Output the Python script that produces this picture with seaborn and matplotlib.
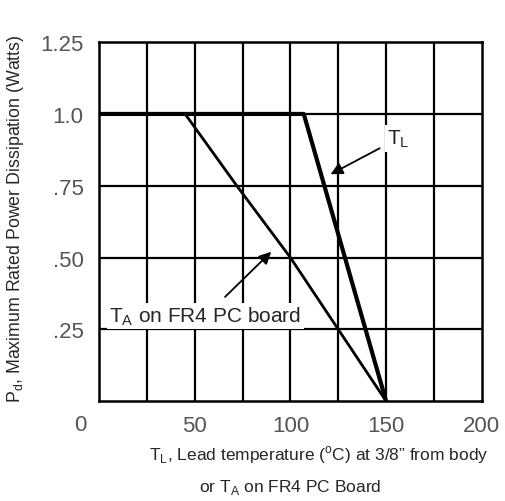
import numpy as np
import pandas as pd
import seaborn as sns
import matplotlib.pyplot as plt

# values
tl_temp = [0, 107, 150]
tl_power = [1.0, 1.0, 0.0]
ta_temp = [45, 72, 100, 125, 150]
ta_power = [1.0, 0.75, 0.50, 0.25, 0.0]
x_ticks = [50, 100, 150, 200]
y_ticks = [0.25, 0.50, 0.75, 1.0, 1.25]
y_labels = ['.25', '.50', '.75', '1.0', '1.25']

sns.set_style('white')
plt.rcParams['font.family'] = ['Liberation Sans', 'DejaVu Sans']
plt.rcParams['mathtext.fontset'] = 'custom'
plt.rcParams['mathtext.rm'] = 'Liberation Sans'

tl = pd.DataFrame({'temp': tl_temp, 'power': tl_power})
ta = pd.DataFrame({'temp': ta_temp, 'power': ta_power})

fig = plt.figure(figsize=(5.05, 5.02), dpi=100)
ax = fig.add_axes([0.196, 0.199, 0.758, 0.715])

# grid
for x in np.arange(25, 200, 25):
    ax.axvline(x, color='black', lw=1.6, zorder=1)
for y in y_ticks[:-1]:
    ax.axhline(y, color='black', lw=1.6, zorder=1)

sns.lineplot(data=ta, x='temp', y='power', color='black', lw=2.0, ax=ax, zorder=3)
sns.lineplot(data=tl, x='temp', y='power', color='black', lw=3.0, ax=ax, zorder=4)

ax.set_xlim(0, 200)
ax.set_ylim(0, 1.25)
for s in ax.spines.values():
    s.set_color('black')
    s.set_linewidth(1.8)

tick_color = '#555555'
ax.set_xticks(x_ticks)
ax.set_xticklabels([str(v) for v in x_ticks])
ax.set_yticks(y_ticks)
ax.set_yticklabels(y_labels)
ax.tick_params(axis='both', length=0, labelsize=16, labelcolor=tick_color)
ax.tick_params(axis='x', pad=10)
ax.tick_params(axis='y', pad=11)
ax.text(-0.05, -0.064, '0', transform=ax.transAxes, fontsize=16, color=tick_color,
        ha='center', va='center')

# x label in two lines, each placed like the original
ax.set_xlabel('')
ax.text(0.574, -0.148, 'T$_\\mathregular{L}$, Lead temperature ($^\\mathregular{o}$C) at 3/8\u201d from body',
        transform=ax.transAxes, fontsize=12.5, ha='center', va='center')
ax.text(0.501, -0.237, 'or T$_\\mathregular{A}$ on FR4 PC Board',
        transform=ax.transAxes, fontsize=12.5, ha='center', va='center')
ax.set_ylabel('P$_\\mathregular{d}$, Maximum Rated Power Dissipation (Watts)', fontsize=12.8)
ax.yaxis.set_label_coords(-0.19, 0.51)

# annotations
ax.annotate('T$_\\mathregular{L}$', xy=(121, 0.79), xytext=(150.5, 0.915), fontsize=15,
            va='center', ha='left', zorder=6,
            bbox=dict(boxstyle='square,pad=0.12', fc='white', ec='none'),
            arrowprops=dict(arrowstyle='-|>', color='black', lw=1.3, mutation_scale=18,
                            shrinkA=4, shrinkB=0))
ax.annotate('T$_\\mathregular{A}$ on FR4 PC board', xy=(90, 0.52), xytext=(55.6, 0.296), fontsize=15,
            va='center', ha='center', zorder=6,
            bbox=dict(boxstyle='square,pad=0.1', fc='white', ec='none'),
            arrowprops=dict(arrowstyle='-|>', color='black', lw=1.3, mutation_scale=18,
                            shrinkA=6, shrinkB=0))

plt.savefig('out.png', dpi=100)
